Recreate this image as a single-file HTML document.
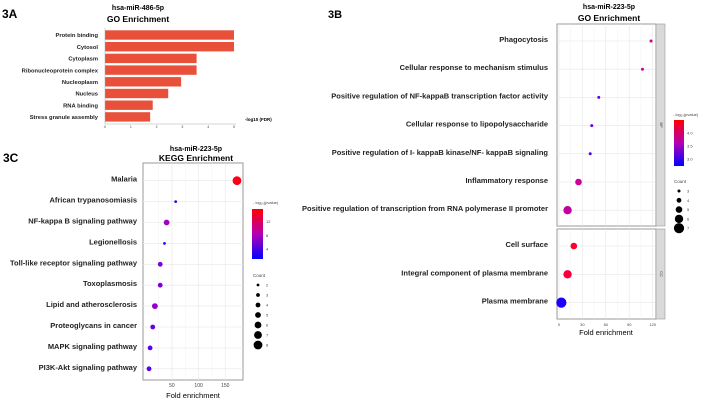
<!DOCTYPE html>
<html><head><meta charset="utf-8"><style>
body{margin:0;background:#fff;}
svg{display:block;font-family:"Liberation Sans",sans-serif;}
.lb{font-size:7.5px;font-weight:bold;fill:#222;}
.tk{font-size:5px;fill:#444;}
</style></head><body>
<svg id="s" width="710" height="401" viewBox="0 0 710 401">
<text x="2" y="18" font-size="12" font-weight="bold">3A</text>
<text x="138" y="10" font-size="7" font-weight="bold" text-anchor="middle">hsa-miR-486-5p</text>
<text x="138" y="22" font-size="8.5" font-weight="bold" text-anchor="middle">GO Enrichment</text>
<text x="245" y="121" font-size="4.5" font-weight="bold">-log10 (FDR)</text>
<text x="3" y="162" font-size="12" font-weight="bold">3C</text>
<text x="196" y="151" font-size="7" font-weight="bold" text-anchor="middle">hsa-miR-223-5p</text>
<text x="196" y="161" font-size="8.5" font-weight="bold" text-anchor="middle">KEGG Enrichment</text>
<text x="193" y="398" font-size="7.5" text-anchor="middle">Fold enrichment</text>
<text x="328" y="18" font-size="11" font-weight="bold">3B</text>
<text x="609" y="9" font-size="7" font-weight="bold" text-anchor="middle">hsa-miR-223-5p</text>
<text x="609" y="21" font-size="8.5" font-weight="bold" text-anchor="middle">GO Enrichment</text>
<text x="606" y="335" font-size="7.5" text-anchor="middle">Fold enrichment</text>
</svg>
<script>
// ---- 3A data
const aCats=["Protein binding","Cytosol","Cytoplasm","Ribonucleoprotein complex","Nucleoplasm","Nucleus","RNA binding","Stress granule assembly"];
const aVals=[5,5,3.55,3.55,2.95,2.45,1.85,1.75];
const aTicks=[0,1,2,3,4,5];
// ---- 3C data
const cCats=["Malaria","African trypanosomiasis","NF-kappa B signaling pathway","Legionellosis","Toll-like receptor signaling pathway","Toxoplasmosis","Lipid and atherosclerosis","Proteoglycans in cancer","MAPK signaling pathway","PI3K-Akt signaling pathway"];
const cFold=[172,57,40,36,28,28,18,14,9,7];
const cCount=[8,2,5,2,4,4,5,4,4,4];
const cLogP=[15.6,2,7,2,4.5,4.5,6,3.5,3,3];
const cTicks=[50,100,150];
const cColorTicks=[4,8,12];
const cCountTicks=[2,3,4,5,6,7,8];
// ---- 3B data
const bBP=["Phagocytosis","Cellular response to mechanism stimulus","Positive regulation of NF-kappaB transcription factor activity","Cellular response to lipopolysaccharide","Positive regulation of I- kappaB kinase/NF- kappaB signaling","Inflammatory response","Positive regulation of transcription from RNA polymerase II promoter"];
const bBPFold=[118,107,51,42,40,25,11];
const bBPCount=[3,3,3,3,3,5,6];
const bBPLogP=[3.9,3.9,3.0,3.0,2.9,3.9,3.8];
const bCC=["Cell surface","Integral component of plasma membrane","Plasma membrane"];
const bCCFold=[19,11,3];
const bCCCount=[5,6,7];
const bCCLogP=[4.45,4.4,2.75];
const bTicks=[0,30,60,90,120];
const bColorTicks=[3.0,3.5,4.0];
const bCountTicks=[3,4,5,6,7];

const S=document.getElementById('s');const NS="http://www.w3.org/2000/svg";
function mk(t,a,txt){const e=document.createElementNS(NS,t);for(const k in a)e.setAttribute(k,a[k]);if(txt!=null)e.textContent=txt;S.appendChild(e);return e;}
function col(v,lo,hi){let t=Math.max(0,Math.min(1,(v-lo)/(hi-lo)));return `rgb(${Math.round(255*Math.sqrt(t))},0,${Math.round(255*Math.sqrt(1-t))})`;}

// ---- 3A
const ax=v=>105+v*25.8, ay=i=>35+i*11.7;
aCats.forEach((c,i)=>{
 let r=mk('rect',{x:ax(0),y:ay(i)-4.7,width:ax(aVals[i])-ax(0),height:9.4,fill:'#e8503a'});
 
 
 let t=mk('text',{x:98,y:ay(i)+2.2,'text-anchor':'end',class:'lb',style:'font-size:5.8px'},c);
 
 
});
mk('line',{x1:105,y1:28,x2:105,y2:124,stroke:'#aaa','stroke-width':0.5});
mk('line',{x1:105,y1:124,x2:236,y2:124,stroke:'#aaa','stroke-width':0.5});
aTicks.forEach(v=>{let t=mk('text',{x:ax(v),y:128,'text-anchor':'middle',class:'tk',style:'font-size:3.5px'},v);
 
 });

// ---- dot plot helper
function dotPanel(o){
 mk('rect',{x:o.x0,y:o.y0,width:o.x1-o.x0,height:o.y1-o.y0,fill:'#fff',stroke:'#999','stroke-width':1});
 o.ticks.forEach(v=>{const X=o.sx(v);mk('line',{x1:X,y1:o.y0,x2:X,y2:o.y1,stroke:'#e6e6e6','stroke-width':0.6});});
 o.minor&&o.minor.forEach(v=>{const X=o.sx(v);mk('line',{x1:X,y1:o.y0,x2:X,y2:o.y1,stroke:'#f0f0f0','stroke-width':0.4});});
 o.cats.forEach((c,i)=>{
  const Y=o.sy(i);
  mk('line',{x1:o.x0,y1:Y,x2:o.x1,y2:Y,stroke:'#e6e6e6','stroke-width':0.6});
  let t=mk('text',{x:o.lx,y:Y+1,'text-anchor':'end',class:'lb'},c);
  
  
  let d=mk('circle',{cx:o.sx(o.fold[i]),cy:Y,r:o.rr(o.count[i]),fill:col(o.logp[i],o.clo,o.chi)});
  
  
 });
}
// ---- 3C
const csx=v=>145.3+v*0.533, csy=i=>180.7+i*20.9, crr=n=>1.4+(n-2)*0.5;
dotPanel({x0:143,y0:163,x1:243,y1:380,ticks:cTicks,minor:[25,75,125],cats:cCats,fold:cFold,count:cCount,logp:cLogP,sx:csx,sy:csy,rr:crr,lx:137,clo:1.1,chi:15.7});
cTicks.forEach(v=>{let t=mk('text',{x:csx(v),y:387,'text-anchor':'middle',class:'tk'},v);
 
 });
const dg=mk('defs',{});
dg.innerHTML='<linearGradient id="g" x1="0" y1="1" x2="0" y2="0"><stop offset="0" stop-color="#0000ff"/><stop offset="0.5" stop-color="#b400b4"/><stop offset="1" stop-color="#ff0000"/></linearGradient>';
mk('text',{x:253,y:204,class:'tk',style:'font-size:4px'},'- log₁₀(pvalue)');
let cb=mk('rect',{x:252,y:209,width:11,height:50,fill:'url(#g)'});


const cby=v=>259-(v-1.1)*(50/14.6);
cColorTicks.forEach(v=>mk('text',{x:266,y:cby(v)+1.5,class:'tk',style:'font-size:4px'},v));
mk('text',{x:253,y:277,class:'tk',style:'font-size:4.5px'},'Count');
cCountTicks.forEach((n,i)=>{const Y=285+i*10;
 let c=mk('circle',{cx:258,cy:Y,r:crr(n),fill:'#000'});
 
 
 mk('text',{x:266,y:Y+1.5,class:'tk',style:'font-size:4px'},n);});

// ---- 3B
const bsx=v=>559+v*0.78, bsy=i=>41+i*28.2, bsy2=i=>246+i*28.3, brr=n=>1.5+(n-3)*0.9;
dotPanel({x0:557,y0:24,x1:656,y1:226,ticks:bTicks,minor:[15,45,75,105],cats:bBP,fold:bBPFold,count:bBPCount,logp:bBPLogP,sx:bsx,sy:bsy,rr:brr,lx:548,clo:2.73,chi:4.5});
dotPanel({x0:557,y0:229,x1:656,y1:319,ticks:bTicks,minor:[15,45,75,105],cats:bCC,fold:bCCFold,count:bCCCount,logp:bCCLogP,sx:bsx,sy:bsy2,rr:brr,lx:548,clo:2.73,chi:4.5});
mk('rect',{x:656,y:24,width:9,height:202,fill:'#d9d9d9',stroke:'#999','stroke-width':0.6});
mk('rect',{x:656,y:229,width:9,height:90,fill:'#d9d9d9',stroke:'#999','stroke-width':0.6});
mk('text',{x:660,y:125,class:'tk',style:'font-size:4px',transform:'rotate(90 660 125)','text-anchor':'middle'},'BP');
mk('text',{x:660,y:274,class:'tk',style:'font-size:4px',transform:'rotate(90 660 274)','text-anchor':'middle'},'CC');
bTicks.forEach(v=>{let t=mk('text',{x:bsx(v),y:326,'text-anchor':'middle',class:'tk',style:'font-size:4px'},v);
 
 });
mk('text',{x:673,y:116,class:'tk',style:'font-size:4px'},'- log₁₀(pvalue)');
let cb2=mk('rect',{x:674,y:120,width:10,height:46,fill:'url(#g)'});


const bcy=v=>166-(v-2.73)*26;
bColorTicks.forEach(v=>mk('text',{x:687,y:bcy(v)+1.5,class:'tk',style:'font-size:4px'},v.toFixed(1)));
mk('text',{x:674,y:183,class:'tk',style:'font-size:4.5px'},'Count');
bCountTicks.forEach((n,i)=>{const Y=191+i*9.3;
 let c=mk('circle',{cx:679,cy:Y,r:brr(n),fill:'#000'});
 
 
 mk('text',{x:687,y:Y+1.5,class:'tk',style:'font-size:4px'},n);});
</script>
</body></html>
